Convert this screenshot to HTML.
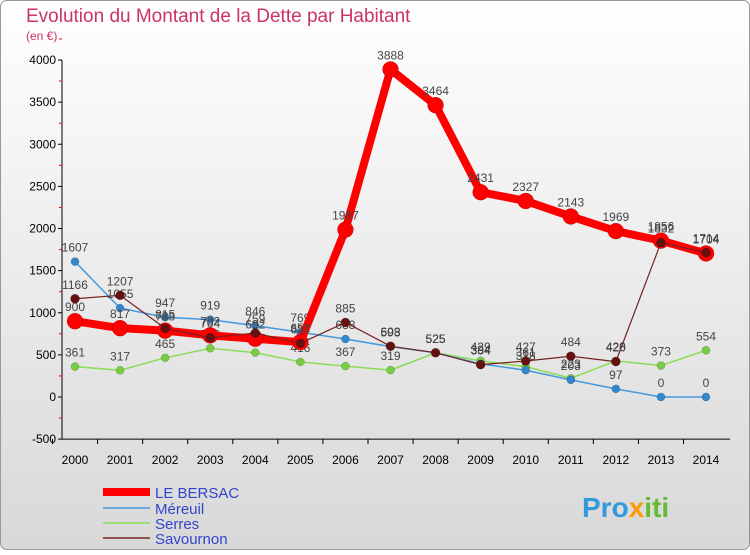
<!DOCTYPE html>
<html><head><meta charset="utf-8"><style>
body{margin:0;width:750px;height:550px;overflow:hidden;font-family:"Liberation Sans",sans-serif;}
</style></head><body>
<svg width="750" height="550" xmlns="http://www.w3.org/2000/svg">
<defs><linearGradient id="bg" x1="0" y1="0" x2="0" y2="1"><stop offset="0" stop-color="#ffffff"/><stop offset="1" stop-color="#d8d8d8"/></linearGradient></defs>
<rect x="0.5" y="0.5" width="749" height="549" rx="6" fill="url(#bg)" stroke="#999"/>
<text x="26" y="22" font-size="19" fill="#cc3366">Evolution du Montant de la Dette par Habitant</text>
<text x="26" y="40" font-size="12" fill="#cc3366">(en €)</text>
<g id="axes"></g><g id="series"></g>
<g>
<line x1="103" y1="492" x2="150" y2="492" stroke="#ff0000" stroke-width="8"/><text x="155" y="498" font-size="15" fill="#3344cc">LE BERSAC</text>
<line x1="103" y1="508" x2="150" y2="508" stroke="#4499dd" stroke-width="1.5"/><text x="155" y="514" font-size="15" fill="#3344cc">Méreuil</text>
<line x1="103" y1="523" x2="150" y2="523" stroke="#88dd55" stroke-width="1.5"/><text x="155" y="529" font-size="15" fill="#3344cc">Serres</text>
<line x1="103" y1="538" x2="150" y2="538" stroke="#772222" stroke-width="1.5"/><text x="155" y="544" font-size="15" fill="#3344cc">Savournon</text>
</g>
<text x="582" y="517" font-size="28" font-weight="bold" fill="#3399dd">Pro<tspan fill="#ff9900">x</tspan><tspan fill="#66bb33">iti</tspan></text>
</svg>
<script>
const years=[2000,2001,2002,2003,2004,2005,2006,2007,2008,2009,2010,2011,2012,2013,2014];
const yTicks=[-500,0,500,1000,1500,2000,2500,3000,3500,4000];
const bersac=[900,817,788,732,692,651,1987,3888,3464,2431,2327,2143,1969,1856,1704];
const mereuil=[1607,1055,947,919,846,769,688,598,525,394,318,203,97,0,0];
const serres=[361,317,465,578,527,416,367,319,525,429,361,223,428,373,554];
const savournon=[1166,1207,815,704,759,637,885,603,525,384,427,484,420,1832,1714];
const NS="http://www.w3.org/2000/svg";
const x=i=>75+i*(706-75)/(years.length-1);
const y=v=>397-v*(397-60)/4000;
function mk(t,a,p){const e=document.createElementNS(NS,t);for(const k in a)e.setAttribute(k,a[k]);p.appendChild(e);return e;}
const ax=document.getElementById('axes');
const yl=mk('line',{x1:62,y1:y(-500),x2:62,y2:y(4000),stroke:'#000'},ax);


mk('line',{x1:62,y1:y(-500),x2:730,y2:y(-500),stroke:'#000'},ax);
yTicks.forEach(v=>{
 mk('line',{x1:58,y1:y(v),x2:62,y2:y(v),stroke:'#000'},ax);
 mk('line',{x1:59,y1:y(v+250),x2:62,y2:y(v+250),stroke:'#f00'},ax);
 const t=mk('text',{x:56,y:y(v)+4,'text-anchor':'end','font-size':12,fill:'#000'},ax);t.textContent=v;
 
 
});
years.forEach((yr,i)=>{
 mk('line',{x1:x(i)-22.5,y1:y(-500),x2:x(i)-22.5,y2:y(-500)+5,stroke:'#000'},ax);
 const t=mk('text',{x:x(i),y:464,'text-anchor':'middle','font-size':12,fill:'#000'},ax);t.textContent=yr;
 
 
});
const sg=document.getElementById('series');
function draw(data,color,w,r,name,mc){
 const g=mk('g',{},sg);
 
 
 mk('polyline',{points:data.map((v,i)=>x(i)+','+y(v)).join(' '),fill:'none',stroke:color,'stroke-width':w,'stroke-linejoin':'round'},g);
 data.forEach((v,i)=>{
  const c=mk('circle',{cx:x(i),cy:y(v),r:r,fill:mc,stroke:'rgba(0,0,0,0.3)','stroke-width':0.5},g);
  
  
  const t=mk('text',{x:x(i),y:y(v)-10,'text-anchor':'middle','font-size':12,fill:'#444'},g);t.textContent=v;
 });
}
draw(serres,'#88dd55',1.5,4,'serres-series','#77cc44');
draw(mereuil,'#4499dd',1.5,4,'mereuil-series','#3388cc');
draw(bersac,'#ff0000',8,8,'le-bersac-series','#ff0000');
draw(savournon,'#772222',1.2,4.5,'savournon-series','#661111');
</script>
</body></html>
